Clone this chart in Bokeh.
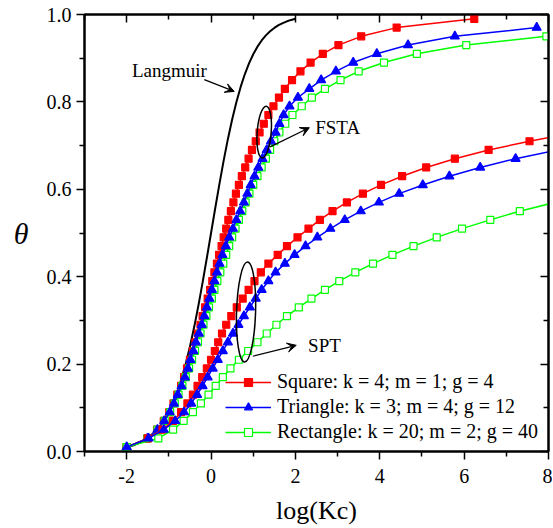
from bokeh.plotting import figure
from bokeh.models import (Range1d, LinearAxis, FixedTicker, Legend, LegendItem,
                          Label, Arrow, VeeHead, CustomJSTickFormatter)
from bokeh.embed import file_html
from bokeh.resources import INLINE

FONT = "Liberation Serif"

# ---------------- data ----------------
x_ticks = [-2, 0, 2, 4, 6, 8]
x_tick_labels = ["-2", "0", "2", "4", "6", "8"]
x_minor = [-3, -1, 1, 3, 5, 7]
y_ticks = [0.0, 0.2, 0.4, 0.6, 0.8, 1.0]
y_tick_labels = ["0.0", "0.2", "0.4", "0.6", "0.8", "1.0"]
y_minor = [0.1, 0.3, 0.5, 0.7, 0.9]

# Langmuir isotherm
langmuir_x = [-2.0, -1.9, -1.8, -1.7, -1.6, -1.5, -1.4, -1.3, -1.2, -1.1, -1.0,
              -0.9, -0.8, -0.7, -0.6, -0.5, -0.4, -0.3, -0.2, -0.1, 0.0,
              0.1, 0.2, 0.3, 0.4, 0.5, 0.6, 0.7, 0.8, 0.9, 1.0,
              1.1, 1.2, 1.3, 1.4, 1.5, 1.6, 1.7, 1.8, 1.9, 2.0]
langmuir_theta = [0.0099, 0.0124, 0.0156, 0.0196, 0.0245, 0.0307, 0.0383, 0.0477, 0.0594, 0.0736, 0.0909,
                  0.1118, 0.1368, 0.1663, 0.2008, 0.2403, 0.2847, 0.3339, 0.3869, 0.4427, 0.5000,
                  0.5573, 0.6131, 0.6661, 0.7153, 0.7597, 0.7992, 0.8337, 0.8632, 0.8882, 0.9091,
                  0.9264, 0.9406, 0.9523, 0.9617, 0.9693, 0.9755, 0.9804, 0.9844, 0.9876, 0.9901]

# coverage levels of the markers
theta_levels = [0.01, 0.03, 0.05, 0.07, 0.09, 0.11, 0.13, 0.15, 0.17, 0.19,
                0.21, 0.23, 0.25, 0.27, 0.29, 0.31, 0.33, 0.35, 0.37, 0.39,
                0.41, 0.43, 0.45, 0.47, 0.49, 0.51, 0.53, 0.55, 0.57, 0.59,
                0.61, 0.63, 0.65, 0.67, 0.69, 0.71, 0.73, 0.75, 0.77, 0.79,
                0.81, 0.83, 0.85, 0.87, 0.89, 0.91, 0.93, 0.95, 0.97, 0.99]

# FSTA curves
fsta_square_x = [-2.00, -1.51, -1.28, -1.12, -0.99, -0.89, -0.80, -0.71, -0.64, -0.57,
                 -0.50, -0.43, -0.37, -0.31, -0.25, -0.20, -0.14, -0.08, -0.02, 0.03,
                 0.08, 0.14, 0.19, 0.25, 0.30, 0.36, 0.41, 0.47, 0.53, 0.59,
                 0.66, 0.73, 0.81, 0.89, 0.97, 1.06, 1.15, 1.25, 1.36, 1.48,
                 1.61, 1.75, 1.92, 2.12, 2.36, 2.65, 3.02, 3.56, 4.40, 6.24]
fsta_triangle_x = [-2.00, -1.51, -1.27, -1.11, -0.98, -0.88, -0.79, -0.70, -0.62, -0.55,
                   -0.49, -0.42, -0.36, -0.29, -0.22, -0.16, -0.10, -0.04, 0.02, 0.08,
                   0.14, 0.20, 0.27, 0.35, 0.43, 0.52, 0.60, 0.69, 0.78, 0.86,
                   0.94, 1.03, 1.12, 1.22, 1.32, 1.42, 1.53, 1.62, 1.72, 1.86,
                   2.06, 2.33, 2.61, 2.96, 3.37, 3.93, 4.67, 5.78, 7.72]
fsta_rect_x = [-2.00, -1.51, -1.27, -1.10, -0.97, -0.86, -0.77, -0.68, -0.60, -0.52,
               -0.45, -0.38, -0.31, -0.25, -0.18, -0.11, -0.05, 0.02, 0.08, 0.15,
               0.22, 0.29, 0.36, 0.43, 0.50, 0.58, 0.66, 0.74, 0.82, 0.91,
               1.00, 1.10, 1.20, 1.30, 1.40, 1.50, 1.62, 1.76, 1.93, 2.15,
               2.39, 2.70, 3.07, 3.50, 4.10, 4.88, 6.05, 7.95]

# SPT curves
spt_square_x = [-2.00, -1.50, -1.15, -0.90, -0.71, -0.56, -0.43, -0.32, -0.21, -0.10,
                0.00, 0.09, 0.17, 0.26, 0.36, 0.48, 0.61, 0.75, 0.89, 1.03,
                1.18, 1.36, 1.58, 1.80, 2.05, 2.31, 2.58, 2.88, 3.22, 3.60,
                4.03, 4.53, 5.10, 5.78, 6.58, 7.55, 8.62]
spt_triangle_x = [-2.00, -1.48, -1.12, -0.85, -0.64, -0.47, -0.33, -0.20, -0.08, 0.04,
                  0.16, 0.28, 0.40, 0.52, 0.65, 0.78, 0.92, 1.06, 1.20, 1.36,
                  1.53, 1.75, 1.98, 2.24, 2.52, 2.83, 3.17, 3.55, 3.98, 4.46,
                  5.02, 5.65, 6.38, 7.22, 8.20]
spt_rect_x = [-2.00, -1.25, -0.90, -0.65, -0.43, -0.24, -0.06, 0.11, 0.28, 0.46,
              0.66, 0.88, 1.10, 1.32, 1.55, 1.80, 2.08, 2.38, 2.70, 3.04,
              3.42, 3.84, 4.30, 4.80, 5.35, 5.95, 6.62, 7.32, 8.15]

legend_labels = ["Square: k = 4; m = 1; g = 4",
                 "Triangle: k = 3; m = 4; g = 12",
                 "Rectangle: k = 20; m = 2; g = 40"]

# annotation anchors (data units)
langmuir_text_xy = (-1.876, 0.8725)
langmuir_arrow = (-0.16, 0.851, 0.55, 0.824)
fsta_text_xy = (2.47, 0.741)
fsta_arrow = (1.40, 0.697, 2.33, 0.741)
fsta_ellipse = (1.26, 0.731)
spt_text_xy = (2.30, 0.243)
spt_arrow = (0.99, 0.218, 2.02, 0.243)
spt_ellipse = (0.83, 0.319)

RED, BLUE, GREEN = "#FF0000", "#0000FF", "#00FF00"

# ---------------- figure ----------------
p = figure(frame_width=464, frame_height=437,
           x_range=Range1d(-3, 8), y_range=Range1d(0, 1),
           output_backend="svg", toolbar_location=None,
           min_border_left=84, min_border_right=4,
           min_border_top=14, min_border_bottom=74)
p.xgrid.visible = False
p.ygrid.visible = False
p.outline_line_color = "black"
p.outline_line_width = 2
p.background_fill_color = "white"
p.border_fill_color = "white"

xax = p.xaxis[0]
xax.ticker = FixedTicker(ticks=x_ticks, minor_ticks=x_minor)
xax.major_label_overrides = dict(zip(x_ticks, x_tick_labels))
yax = p.yaxis[0]
yax.ticker = FixedTicker(ticks=y_ticks, minor_ticks=y_minor)
yax.major_label_overrides = dict(zip(y_ticks, y_tick_labels))

for ax in (xax, yax):
    ax.axis_line_width = 2
    ax.major_tick_line_width = 1.5
    ax.minor_tick_line_width = 1.5
    ax.major_tick_out = 8
    ax.major_tick_in = 0
    ax.minor_tick_out = 5
    ax.minor_tick_in = 0
    ax.major_label_text_font = FONT
    ax.major_label_text_font_size = "20px"
    ax.major_label_text_color = "black"
    ax.axis_label_text_font = FONT
    ax.axis_label_text_color = "black"

xax.major_label_standoff = 9
xax.axis_label = "log(Kc)"
xax.axis_label_text_font_size = "26px"
xax.axis_label_text_font_style = "normal"
xax.axis_label_standoff = 10

yax.major_label_standoff = 5
yax.axis_label = "θ"
yax.axis_label_text_font_size = "30px"
yax.axis_label_text_font_style = "italic"
yax.axis_label_orientation = "horizontal"
yax.axis_label_standoff = 15

blank = CustomJSTickFormatter(code="return ''")
top = LinearAxis(ticker=FixedTicker(ticks=x_ticks, minor_ticks=x_minor), formatter=blank)
right = LinearAxis(ticker=FixedTicker(ticks=y_ticks, minor_ticks=y_minor), formatter=blank)
for ax in (top, right):
    ax.axis_line_width = 2
    ax.major_tick_line_width = 1.5
    ax.minor_tick_line_width = 1.5
    ax.major_tick_in = 8
    ax.major_tick_out = 0
    ax.minor_tick_in = 5
    ax.minor_tick_out = 0
    ax.major_label_standoff = 0
    ax.major_label_text_font_size = "1px"
p.add_layout(top, "above")
p.add_layout(right, "right")

# ---------------- curves ----------------
p.line(langmuir_x, langmuir_theta, line_color="black", line_width=2)

series = [
    (fsta_square_x, RED, "square", RED, 7),
    (fsta_rect_x, GREEN, "square", "white", 7),
    (fsta_triangle_x, BLUE, "triangle", BLUE, 9),
    (spt_square_x, RED, "square", RED, 7),
    (spt_rect_x, GREEN, "square", "white", 7),
    (spt_triangle_x, BLUE, "triangle", BLUE, 9),
]
legend_renderers = {}
for xs, col, marker, fill, size in series:
    ys = theta_levels[:len(xs)]
    lr = p.line(xs, ys, line_color=col, line_width=1.5)
    sr = p.scatter(xs, ys, marker=marker, size=size, line_color=col,
                   fill_color=fill, line_width=1.2)
    legend_renderers.setdefault(col, [lr, sr])

items = [LegendItem(label=legend_labels[0], renderers=legend_renderers[RED]),
         LegendItem(label=legend_labels[1], renderers=legend_renderers[BLUE]),
         LegendItem(label=legend_labels[2], renderers=legend_renderers[GREEN])]
legend = Legend(items=items, location=(141, 8),
                label_text_font=FONT, label_text_font_size="20px",
                label_text_color="black",
                glyph_width=46, glyph_height=20, label_height=20,
                label_standoff=6, spacing=2, padding=0, margin=0,
                border_line_color=None, background_fill_alpha=0)
p.add_layout(legend)

# ---------------- annotations ----------------
def add_label(xy, text):
    p.add_layout(Label(x=xy[0], y=xy[1], text=text, text_font=FONT,
                       text_font_size="19px", text_baseline="middle",
                       text_align="left", text_color="black"))

def add_arrow(a):
    p.add_layout(Arrow(x_start=a[0], y_start=a[1], x_end=a[2], y_end=a[3],
                       line_width=1.2, line_color="black",
                       end=VeeHead(size=9, fill_color="black", line_color="black")))

add_label(langmuir_text_xy, "Langmuir")
add_arrow(langmuir_arrow)
add_label(fsta_text_xy, "FSTA")
add_arrow(fsta_arrow)
add_label(spt_text_xy, "SPT")
add_arrow(spt_arrow)

p.ellipse(x=[fsta_ellipse[0]], y=[fsta_ellipse[1]], width=14, height=52,
          width_units="screen", height_units="screen", angle=-0.08,
          fill_color=None, line_color="black", line_width=1.5)
p.ellipse(x=[spt_ellipse[0]], y=[spt_ellipse[1]], width=19, height=100,
          width_units="screen", height_units="screen", angle=-0.03,
          fill_color=None, line_color="black", line_width=1.5)

open("out.html", "w").write(file_html(p, INLINE))
